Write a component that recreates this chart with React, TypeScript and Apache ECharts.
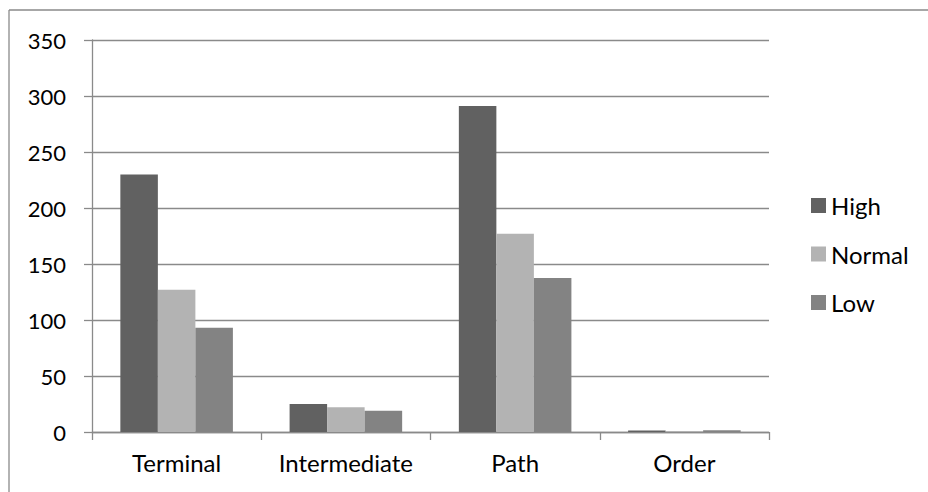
import React, { useEffect, useRef } from "react";
import * as echarts from "echarts";

const categories = ["Terminal", "Intermediate", "Path", "Order"];
const highValues = [230, 25, 291, 1.3];
const normalValues = [127, 22, 177, 1];
const lowValues = [93, 19, 137.5, 1.5];
const seriesNames = ["High", "Normal", "Low"];
const seriesColors = ["#616161", "#b3b3b3", "#838383"];

const FONT = "Lato";
const FS_Y = 22;
const FS = 24;

export default function App() {
  const ref = useRef<HTMLDivElement>(null);
  useEffect(() => {
    if (!ref.current) return;
    const chart = echarts.init(ref.current, undefined, { renderer: "svg" });
    const data = [highValues, normalValues, lowValues];
    chart.setOption({
      animation: false,
      backgroundColor: "#ffffff",
      textStyle: { fontFamily: FONT },
      graphic: [
        {
          type: "line",
          shape: { x1: 9, y1: 10, x2: 928, y2: 10 },
          style: { stroke: "#8a8a8a", lineWidth: 1.3 },
          silent: true,
        },
        {
          type: "line",
          shape: { x1: 9, y1: 10, x2: 9, y2: 492 },
          style: { stroke: "#8a8a8a", lineWidth: 1.3 },
          silent: true,
        },
      ],
      grid: { left: 92, right: 159, top: 40, bottom: 60, containLabel: false },
      legend: {
        orient: "vertical",
        left: 811,
        top: 193.5,
        padding: 0,
        itemWidth: 15,
        itemHeight: 15,
        itemGap: 24.5,
        icon: "rect",
        textStyle: { fontFamily: FONT, fontSize: FS, color: "#000" },
        data: seriesNames,
      },
      xAxis: {
        type: "category",
        data: categories,
        axisLine: { lineStyle: { color: "#8a8a8a", width: 1.3 } },
        axisTick: { show: true, length: 8, interval: 0, alignWithLabel: false, lineStyle: { color: "#8a8a8a", width: 1.3 } },
        axisLabel: { interval: 0, fontFamily: FONT, fontSize: FS, color: "#000", margin: 18 },
        splitLine: { show: false },
      },
      yAxis: {
        type: "value",
        min: 0,
        max: 350,
        interval: 50,
        axisLine: { show: true, lineStyle: { color: "#8a8a8a", width: 1.3 } },
        axisTick: { show: true, length: 8, lineStyle: { color: "#8a8a8a", width: 1.3 } },
        axisLabel: { fontFamily: FONT, fontSize: FS_Y, color: "#000", margin: 26 },
        splitLine: { show: true, lineStyle: { color: "#8a8a8a", width: 1.3 } },
      },
      series: seriesNames.map((name, i) => ({
        name,
        type: "bar",
        data: data[i],
        barGap: "0%",
        barCategoryGap: "33.5%",
        itemStyle: { color: seriesColors[i] },
      })),
    });
    return () => chart.dispose();
  }, []);
  return <div ref={ref} style={{ position: "fixed", left: 0, top: 0, width: 928, height: 492 }} />;
}
